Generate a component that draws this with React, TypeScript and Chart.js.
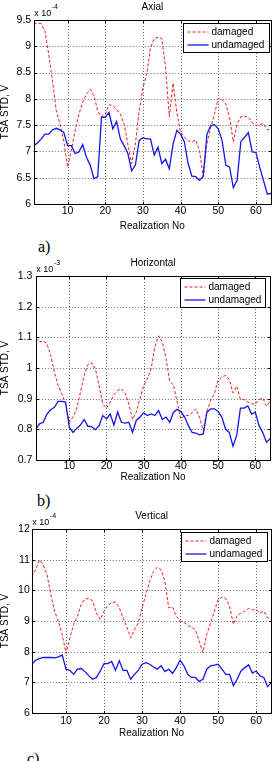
import React, { useEffect, useRef } from "react";
import { Chart, registerables } from "chart.js";

Chart.register(...registerables);

// Realization numbers along the x axis
const REALIZATION = [
  1, 2, 3, 4, 5, 6, 7, 8, 9, 10, 11, 12, 13, 14, 15, 16, 17, 18, 19, 20, 21, 22,
  23, 24, 25, 26, 27, 28, 29, 30, 31, 32, 33, 34, 35, 36, 37, 38, 39, 40, 41, 42,
  43, 44, 45, 46, 47, 48, 49, 50, 51, 52, 53, 54, 55, 56, 57, 58, 59, 60, 61, 62,
  63, 64,
];
const X_TICKS = [10, 20, 30, 40, 50, 60];
const X_TICK_LABELS = ["10", "20", "30", "40", "50", "60"];

// Axial TSA STD, units of 1e-4 V
const AXIAL_DAMAGED = [
  9.44, 9.44, 9.43, 9.28, 8.84, 8.34, 7.77, 7.52, 7.2, 6.7,
  7.02, 7.4, 7.71, 7.93, 8.09, 8.18, 8.06, 7.77, 7.66, 7.71,
  7.89, 7.87, 7.8, 7.71, 7.52, 7.14, 6.77, 7.14, 7.77, 8.21,
  8.47, 8.97, 9.15, 9.17, 9.15, 8.6, 7.66, 8.3, 7.74, 7.36,
  7.27, 7.2, 7.18, 7.22, 7.02, 6.52, 7.15, 7.46, 7.71, 8.01,
  7.99, 7.9, 7.65, 7.18, 7.52, 7.66, 7.67, 7.65, 7.55, 7.49,
  7.51, 7.53, 7.41, 7.43,
];
const AXIAL_UNDAMAGED = [
  7.11, 7.16, 7.24, 7.33, 7.33, 7.41, 7.44, 7.41, 7.36, 7.11,
  7.11, 6.96, 6.99, 7.13, 6.89, 6.74, 6.48, 6.52, 7.65, 7.65,
  7.74, 7.43, 7.57, 7.24, 7.11, 6.96, 6.63, 6.74, 7.21, 7.26,
  7.24, 7.24, 6.93, 7.08, 6.77, 6.85, 6.67, 7.14, 7.4, 7.33,
  7.18, 6.77, 6.53, 6.52, 6.45, 6.52, 7.33, 7.49, 7.51, 7.43,
  7.21, 6.74, 6.7, 6.31, 6.45, 7.19, 7.27, 7.36, 6.99, 6.98,
  6.7, 6.45, 6.19, 6.2,
];

// Horizontal TSA STD, units of 1e-3 V
const HORIZONTAL_DAMAGED = [
  1.098, 1.085, 1.088, 1.08, 1.041, 0.987, 0.943, 0.916, 0.883, 0.823,
  0.84, 0.867, 0.921, 0.976, 1.011, 1.017, 0.998, 0.943, 0.883, 0.869,
  0.889, 0.913, 0.927, 0.932, 0.919, 0.883, 0.832, 0.856, 0.9, 0.943,
  0.965, 0.998, 1.069, 1.105, 1.085, 1.031, 0.956, 0.945, 0.889, 0.834,
  0.845, 0.845, 0.854, 0.867, 0.84, 0.796, 0.861, 0.894, 0.916, 0.96,
  0.971, 0.976, 0.963, 0.919, 0.941, 0.897, 0.897, 0.889, 0.883, 0.883,
  0.897, 0.902, 0.876, 0.891,
];
const HORIZONTAL_UNDAMAGED = [
  0.801, 0.818, 0.823, 0.85, 0.864, 0.872, 0.891, 0.891, 0.889, 0.807,
  0.79, 0.803, 0.814, 0.832, 0.81, 0.809, 0.799, 0.812, 0.845, 0.834,
  0.85, 0.814, 0.856, 0.823, 0.82, 0.823, 0.79, 0.829, 0.84, 0.854,
  0.845, 0.85, 0.845, 0.861, 0.832, 0.84, 0.823, 0.856, 0.865, 0.858,
  0.84, 0.812, 0.79, 0.788, 0.782, 0.785, 0.856, 0.867, 0.867, 0.858,
  0.84, 0.801, 0.79, 0.745, 0.78, 0.869, 0.869, 0.876, 0.85, 0.856,
  0.812, 0.79, 0.758, 0.769,
];

// Vertical TSA STD, units of 1e-4 V
const VERTICAL_DAMAGED = [
  10.45, 10.67, 10.99, 10.83, 10.51, 9.86, 9.32, 8.99, 8.56, 7.94,
  8.45, 8.89, 9.16, 9.54, 9.72, 9.73, 9.66, 9.26, 9.05, 9.32,
  9.51, 9.59, 9.62, 9.43, 9.1, 8.8, 8.45, 8.72, 8.94, 9.43,
  9.86, 10.29, 10.62, 10.75, 10.67, 10.29, 9.43, 9.45, 9.16, 9.0,
  8.96, 8.86, 8.8, 8.72, 8.35, 7.97, 8.56, 8.94, 9.32, 9.7,
  9.78, 9.73, 9.48, 8.89, 9.19, 9.26, 9.32, 9.41, 9.37, 9.37,
  9.26, 9.32, 9.1, 9.12,
];
const VERTICAL_UNDAMAGED = [
  7.59, 7.72, 7.77, 7.81, 7.81, 7.81, 7.8, 7.83, 7.89, 7.43,
  7.39, 7.26, 7.43, 7.45, 7.35, 7.21, 7.1, 7.16, 7.37, 7.61,
  7.61, 7.68, 7.39, 7.7, 7.39, 7.39, 7.1, 7.26, 7.39, 7.59,
  7.64, 7.59, 7.5, 7.43, 7.54, 7.35, 7.43, 7.29, 7.48, 7.72,
  7.54, 7.26, 7.16, 7.16, 7.03, 7.1, 7.43, 7.54, 7.56, 7.59,
  7.43, 7.26, 7.26, 6.89, 7.1, 7.37, 7.48, 7.57, 7.3, 7.37,
  7.21, 7.16, 6.86, 7.0,
];

const AXIAL_Y_TICKS = [6, 6.5, 7, 7.5, 8, 8.5, 9, 9.5];
const AXIAL_Y_LABELS = ["6", "6.5", "7", "7.5", "8", "8.5", "9", "9.5"];
const HORIZONTAL_Y_TICKS = [0.7, 0.8, 0.9, 1, 1.1, 1.2, 1.3];
const HORIZONTAL_Y_LABELS = ["0.7", "0.8", "0.9", "1", "1.1", "1.2", "1.3"];
const VERTICAL_Y_TICKS = [6, 7, 8, 9, 10, 11, 12];
const VERTICAL_Y_LABELS = ["6", "7", "8", "9", "10", "11", "12"];

const SERIES_NAMES = ["damaged", "undamaged"];
const PANEL_TITLES = ["Axial", "Horizontal", "Vertical"];
const EXPONENTS = ["-4", "-3", "-4"];
const CAPTIONS = ["a)", "b)", "c)"];
const X_TITLE = "Realization No";
const Y_TITLE = "TSA STD, V";

const FONT = '"Liberation Sans", Arial, sans-serif';
const RED = "rgb(238,28,28)";
const BLUE = "rgb(22,22,228)";
const GRID = "rgba(0,0,0,0.6)";
const WIDTH = 276;

type PanelSpec = {
  title: string;
  exponent: string;
  caption: string;
  damaged: number[];
  undamaged: number[];
  yTicks: number[];
  yLabels: string[];
  canvasTop: number;
  canvasHeight: number;
  left: number;
  right: number;
  plotTop: number;
  plotBottom: number;
  xTickPad: number;
  yTickPad: number;
  legendInset: number;
  legendTop: number;
  legendWidth: number;
  captionLeft: number;
  captionBaseline: number;
};

const PANELS: PanelSpec[] = [
  {
    title: PANEL_TITLES[0], exponent: EXPONENTS[0], caption: CAPTIONS[0],
    damaged: AXIAL_DAMAGED, undamaged: AXIAL_UNDAMAGED,
    yTicks: AXIAL_Y_TICKS, yLabels: AXIAL_Y_LABELS,
    canvasTop: 0, canvasHeight: 231, left: 33.7, right: 271, plotTop: 20, plotBottom: 204,
    xTickPad: 1.5, yTickPad: 2.5, legendInset: 2, legendTop: 2.7, legendWidth: 86,
    captionLeft: 38, captionBaseline: 252,
  },
  {
    title: PANEL_TITLES[1], exponent: EXPONENTS[1], caption: CAPTIONS[1],
    damaged: HORIZONTAL_DAMAGED, undamaged: HORIZONTAL_UNDAMAGED,
    yTicks: HORIZONTAL_Y_TICKS, yLabels: HORIZONTAL_Y_LABELS,
    canvasTop: 256, canvasHeight: 226, left: 35.8, right: 270.2, plotTop: 276, plotBottom: 460,
    xTickPad: 0.8, yTickPad: 3.5, legendInset: 5, legendTop: 2, legendWidth: 85,
    captionLeft: 37, captionBaseline: 506,
  },
  {
    title: PANEL_TITLES[2], exponent: EXPONENTS[2], caption: CAPTIONS[2],
    damaged: VERTICAL_DAMAGED, undamaged: VERTICAL_UNDAMAGED,
    yTicks: VERTICAL_Y_TICKS, yLabels: VERTICAL_Y_LABELS,
    canvasTop: 509, canvasHeight: 229, left: 31.8, right: 271.4, plotTop: 529, plotBottom: 713,
    xTickPad: 3, yTickPad: 2, legendInset: 4, legendTop: 3, legendWidth: 86,
    captionLeft: 27, captionBaseline: 764,
  },
];

const half = (v: number) => Math.round(v) + 0.5;

// MATLAB-style axes: dotted grid, boxed frame with inward ticks, title,
// exponent multiplier and a boxed legend in the upper-right corner.
const matlabAxes = {
  id: "matlabAxes",
  beforeDatasetsDraw(chart: any) {
    const { ctx, chartArea: a, scales } = chart;
    ctx.save();
    ctx.strokeStyle = GRID;
    ctx.lineWidth = 1;
    ctx.setLineDash([1, 2]);
    scales.x.ticks.forEach((t: any) => {
      const px = half(scales.x.getPixelForValue(t.value));
      if (px <= a.left + 1 || px >= a.right - 1) return;
      ctx.beginPath();
      ctx.moveTo(px, a.top);
      ctx.lineTo(px, a.bottom);
      ctx.stroke();
    });
    scales.y.ticks.forEach((t: any) => {
      const py = half(scales.y.getPixelForValue(t.value));
      if (py <= a.top + 1 || py >= a.bottom - 1) return;
      ctx.beginPath();
      ctx.moveTo(a.left, py);
      ctx.lineTo(a.right, py);
      ctx.stroke();
    });
    ctx.restore();
  },
  afterDatasetsDraw(chart: any, _args: any, opts: any) {
    const { ctx, chartArea: a, scales } = chart;
    const l = half(a.left), r = half(a.right), t = half(a.top), b = half(a.bottom);
    ctx.save();
    ctx.setLineDash([]);
    ctx.strokeStyle = "#000";
    ctx.lineWidth = 1;
    ctx.strokeRect(l, t, r - l, b - t);

    const tick = 2.5;
    ctx.beginPath();
    scales.x.ticks.forEach((tk: any) => {
      const px = half(scales.x.getPixelForValue(tk.value));
      ctx.moveTo(px, b); ctx.lineTo(px, b - tick);
      ctx.moveTo(px, t); ctx.lineTo(px, t + tick);
    });
    scales.y.ticks.forEach((tk: any) => {
      const py = half(scales.y.getPixelForValue(tk.value));
      ctx.moveTo(l, py); ctx.lineTo(l + tick, py);
      ctx.moveTo(r, py); ctx.lineTo(r - tick, py);
    });
    ctx.stroke();

    // title
    ctx.fillStyle = "#000";
    ctx.font = `10px ${FONT}`;
    ctx.textAlign = "center";
    ctx.textBaseline = "middle";
    ctx.fillText(opts.title, (a.left + a.right) / 2, a.top - 12.5);

    // exponent multiplier
    ctx.textAlign = "left";
    ctx.textBaseline = "alphabetic";
    ctx.font = `9px ${FONT}`;
    const base = "x 10";
    ctx.fillText(base, a.left + 0.5, a.top - 4);
    const w = ctx.measureText(base).width;
    ctx.font = `7px ${FONT}`;
    ctx.fillText(opts.exponent, a.left + 0.5 + w + 0.5, a.top - 11.5);

    // legend
    const bw = opts.legendWidth;
    const bh = 29;
    const bx = Math.round(a.right - opts.legendInset - bw) + 0.5;
    const by = Math.round(a.top + opts.legendTop) + 0.5;
    ctx.fillStyle = "#fff";
    ctx.fillRect(bx, by, bw, bh);
    ctx.strokeStyle = "#000";
    ctx.strokeRect(bx, by, bw, bh);
    const rows = [
      { name: opts.names[0], color: RED, dash: [3, 2], width: 1 },
      { name: opts.names[1], color: BLUE, dash: [], width: 1.3 },
    ];
    rows.forEach((row, i) => {
      const cy = by + 8.5 + i * 13;
      ctx.strokeStyle = row.color;
      ctx.lineWidth = row.width;
      ctx.setLineDash(row.dash);
      ctx.beginPath();
      ctx.moveTo(bx + 4, cy);
      ctx.lineTo(bx + 25, cy);
      ctx.stroke();
      ctx.setLineDash([]);
      ctx.fillStyle = "#000";
      ctx.font = `10px ${FONT}`;
      ctx.textBaseline = "middle";
      ctx.fillText(row.name, bx + 28, cy);
    });
    ctx.restore();
  },
};

function TsaPanel({ spec }: { spec: PanelSpec }) {
  const ref = useRef<HTMLCanvasElement>(null);

  useEffect(() => {
    const canvas = ref.current;
    if (!canvas) return;
    const points = (values: number[]) =>
      REALIZATION.map((n, i) => ({ x: n, y: values[i] }));

    const chart = new Chart(canvas, {
      type: "line",
      data: {
        datasets: [
          {
            label: SERIES_NAMES[0],
            data: points(spec.damaged),
            borderColor: RED,
            borderWidth: 1,
            borderDash: [3, 2],
            pointRadius: 0,
            fill: false,
            tension: 0,
            order: 1,
          },
          {
            label: SERIES_NAMES[1],
            data: points(spec.undamaged),
            borderColor: BLUE,
            borderWidth: 1.3,
            pointRadius: 0,
            fill: false,
            tension: 0,
            order: 0,
          },
        ],
      },
      options: {
        responsive: false,
        animation: false,
        devicePixelRatio: 1,
        events: [],
        layout: {
          padding: {
            top: spec.plotTop - spec.canvasTop,
            right: WIDTH - spec.right,
            left: 0,
            bottom: 0,
          },
        },
        plugins: {
          legend: { display: false },
          title: { display: false },
          tooltip: { enabled: false },
          matlabAxes: {
            title: spec.title,
            exponent: spec.exponent,
            names: SERIES_NAMES,
            legendInset: spec.legendInset,
            legendTop: spec.legendTop,
            legendWidth: spec.legendWidth,
          },
        } as any,
        scales: {
          x: {
            type: "linear",
            min: REALIZATION[0],
            max: REALIZATION[REALIZATION.length - 1],
            grid: { display: false, drawTicks: false },
            border: { display: false },
            afterBuildTicks: (s: any) => {
              s.ticks = X_TICKS.map((v) => ({ value: v }));
            },
            afterFit: (s: any) => {
              s.height = spec.canvasHeight - (spec.plotBottom - spec.canvasTop);
            },
            ticks: {
              autoSkip: false,
              maxRotation: 0,
              padding: spec.xTickPad,
              color: "#000",
              font: { family: FONT, size: 10.5, lineHeight: 1 },
              callback: (v: any) => X_TICK_LABELS[X_TICKS.indexOf(Number(v))] ?? "",
            },
            title: {
              display: true,
              text: X_TITLE,
              color: "#000",
              padding: 0,
              font: { family: FONT, size: 10, lineHeight: 1 },
            },
          },
          y: {
            type: "linear",
            min: spec.yTicks[0],
            max: spec.yTicks[spec.yTicks.length - 1],
            grid: { display: false, drawTicks: false },
            border: { display: false },
            afterBuildTicks: (s: any) => {
              s.ticks = spec.yTicks.map((v) => ({ value: v }));
            },
            afterFit: (s: any) => {
              s.width = spec.left;
            },
            ticks: {
              autoSkip: false,
              padding: spec.yTickPad,
              color: "#000",
              font: { family: FONT, size: 10.5, lineHeight: 1 },
              callback: (v: any) => {
                const idx = spec.yTicks.findIndex((t) => Math.abs(t - Number(v)) < 1e-9);
                return idx >= 0 ? spec.yLabels[idx] : "";
              },
            },
            title: {
              display: true,
              text: Y_TITLE,
              color: "#000",
              padding: 0,
              font: { family: FONT, size: 10, lineHeight: 1 },
            },
          },
        },
      },
      plugins: [matlabAxes],
    });

    return () => chart.destroy();
  }, [spec]);

  return (
    <canvas
      ref={ref}
      width={WIDTH}
      height={spec.canvasHeight}
      style={{
        position: "absolute",
        left: 0,
        top: spec.canvasTop,
        width: WIDTH,
        height: spec.canvasHeight,
      }}
    />
  );
}

export default function App() {
  return (
    <div
      style={{
        position: "absolute",
        left: 0,
        top: 0,
        width: WIDTH,
        height: 761,
        overflow: "hidden",
        background: "#fff",
      }}
    >
      {PANELS.map((p) => (
        <React.Fragment key={p.title}>
          <TsaPanel spec={p} />
          <div
            style={{
              position: "absolute",
              left: p.captionLeft,
              top: p.captionBaseline - 13.4,
              fontFamily: '"Liberation Serif", "Times New Roman", serif',
              fontSize: 16,
              lineHeight: "16px",
              color: "#000",
              whiteSpace: "nowrap",
            }}
          >
            {p.caption}
          </div>
        </React.Fragment>
      ))}
    </div>
  );
}
